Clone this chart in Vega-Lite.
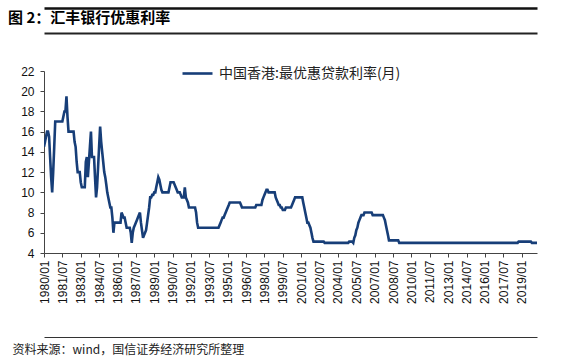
{
  "$schema": "https://vega.github.io/schema/vega-lite/v6.json",
  "autosize": {"type": "none"},
  "width": 493,
  "height": 182,
  "padding": {"left": 44, "top": 71, "right": 29, "bottom": 104},
  "background": "white",
  "title": {
    "text": "图 2：汇丰银行优惠利率",
    "anchor": "start",
    "frame": "group",
    "font": "Noto Sans CJK SC",
    "fontSize": 15,
    "fontWeight": "bold",
    "color": "#000000",
    "dx": -36,
    "offset": -18
  },
  "config": {
    "view": {"stroke": null},
    "axis": {"grid": false, "domainColor": "#444444", "tickColor": "#444444", "labelColor": "#111111", "labelFont": "Liberation Sans", "labelFontSize": 12}
  },
  "data": {
    "values": [
      {"date": "1980/01/01", "rate": 14.5}, {"date": "1980/02/01", "rate": 15}, {"date": "1980/03/01", "rate": 15.5}, {"date": "1980/04/01", "rate": 16}, {"date": "1980/05/01", "rate": 16}, {"date": "1980/06/01", "rate": 15.5}, {"date": "1980/07/01", "rate": 13.5}, {"date": "1980/08/01", "rate": 11.5}, {"date": "1980/09/01", "rate": 10}, {"date": "1980/10/01", "rate": 12}, {"date": "1980/11/01", "rate": 14.5}, {"date": "1980/12/01", "rate": 17},
      {"date": "1981/01/01", "rate": 17}, {"date": "1981/02/01", "rate": 17}, {"date": "1981/03/01", "rate": 17}, {"date": "1981/04/01", "rate": 17}, {"date": "1981/05/01", "rate": 17}, {"date": "1981/06/01", "rate": 17}, {"date": "1981/07/01", "rate": 17}, {"date": "1981/08/01", "rate": 17.5}, {"date": "1981/09/01", "rate": 18}, {"date": "1981/10/01", "rate": 18}, {"date": "1981/11/01", "rate": 19.5}, {"date": "1981/12/01", "rate": 17.5},
      {"date": "1982/01/01", "rate": 16}, {"date": "1982/02/01", "rate": 16}, {"date": "1982/03/01", "rate": 16}, {"date": "1982/04/01", "rate": 16}, {"date": "1982/05/01", "rate": 16}, {"date": "1982/06/01", "rate": 16}, {"date": "1982/07/01", "rate": 15}, {"date": "1982/08/01", "rate": 14.5}, {"date": "1982/09/01", "rate": 13}, {"date": "1982/10/01", "rate": 12}, {"date": "1982/11/01", "rate": 12}, {"date": "1982/12/01", "rate": 12},
      {"date": "1983/01/01", "rate": 11}, {"date": "1983/02/01", "rate": 10.5}, {"date": "1983/03/01", "rate": 10.5}, {"date": "1983/04/01", "rate": 10.5}, {"date": "1983/05/01", "rate": 10.5}, {"date": "1983/06/01", "rate": 13}, {"date": "1983/07/01", "rate": 13.5}, {"date": "1983/08/01", "rate": 11.5}, {"date": "1983/09/01", "rate": 13}, {"date": "1983/10/01", "rate": 14.5}, {"date": "1983/11/01", "rate": 16}, {"date": "1983/12/01", "rate": 13.5},
      {"date": "1984/01/01", "rate": 13.5}, {"date": "1984/02/01", "rate": 13.5}, {"date": "1984/03/01", "rate": 11.5}, {"date": "1984/04/01", "rate": 9.5}, {"date": "1984/05/01", "rate": 10.5}, {"date": "1984/06/01", "rate": 12.5}, {"date": "1984/07/01", "rate": 14.5}, {"date": "1984/08/01", "rate": 16.5}, {"date": "1984/09/01", "rate": 15}, {"date": "1984/10/01", "rate": 14}, {"date": "1984/11/01", "rate": 13}, {"date": "1984/12/01", "rate": 12},
      {"date": "1985/01/01", "rate": 11.5}, {"date": "1985/02/01", "rate": 10.75}, {"date": "1985/03/01", "rate": 10}, {"date": "1985/04/01", "rate": 9.5}, {"date": "1985/05/01", "rate": 9}, {"date": "1985/06/01", "rate": 8.5}, {"date": "1985/07/01", "rate": 8.5}, {"date": "1985/08/01", "rate": 7.5}, {"date": "1985/09/01", "rate": 6}, {"date": "1985/10/01", "rate": 7}, {"date": "1985/11/01", "rate": 7}, {"date": "1985/12/01", "rate": 7},
      {"date": "1986/01/01", "rate": 7}, {"date": "1986/02/01", "rate": 7}, {"date": "1986/03/01", "rate": 7}, {"date": "1986/04/01", "rate": 7}, {"date": "1986/05/01", "rate": 8}, {"date": "1986/06/01", "rate": 7.75}, {"date": "1986/07/01", "rate": 7.5}, {"date": "1986/08/01", "rate": 7.5}, {"date": "1986/09/01", "rate": 7}, {"date": "1986/10/01", "rate": 6.5}, {"date": "1986/11/01", "rate": 6.5}, {"date": "1986/12/01", "rate": 6.5},
      {"date": "1987/01/01", "rate": 6.5}, {"date": "1987/02/01", "rate": 6}, {"date": "1987/03/01", "rate": 5}, {"date": "1987/04/01", "rate": 6}, {"date": "1987/05/01", "rate": 6.5}, {"date": "1987/06/01", "rate": 6.75}, {"date": "1987/07/01", "rate": 7}, {"date": "1987/08/01", "rate": 7.25}, {"date": "1987/09/01", "rate": 7.5}, {"date": "1987/10/01", "rate": 7.75}, {"date": "1987/11/01", "rate": 8}, {"date": "1987/12/01", "rate": 7},
      {"date": "1988/01/01", "rate": 6.25}, {"date": "1988/02/01", "rate": 5.5}, {"date": "1988/03/01", "rate": 5.75}, {"date": "1988/04/01", "rate": 6}, {"date": "1988/05/01", "rate": 6.25}, {"date": "1988/06/01", "rate": 7}, {"date": "1988/07/01", "rate": 7.75}, {"date": "1988/08/01", "rate": 8.5}, {"date": "1988/09/01", "rate": 9.5}, {"date": "1988/10/01", "rate": 9.5}, {"date": "1988/11/01", "rate": 9.75}, {"date": "1988/12/01", "rate": 9.75},
      {"date": "1989/01/01", "rate": 10}, {"date": "1989/02/01", "rate": 10}, {"date": "1989/03/01", "rate": 10.5}, {"date": "1989/04/01", "rate": 11}, {"date": "1989/05/01", "rate": 11.5}, {"date": "1989/06/01", "rate": 11.25}, {"date": "1989/07/01", "rate": 10.75}, {"date": "1989/08/01", "rate": 10.25}, {"date": "1989/09/01", "rate": 10}, {"date": "1989/10/01", "rate": 10}, {"date": "1989/11/01", "rate": 10}, {"date": "1989/12/01", "rate": 10},
      {"date": "1990/01/01", "rate": 10}, {"date": "1990/02/01", "rate": 10}, {"date": "1990/03/01", "rate": 10}, {"date": "1990/04/01", "rate": 10.5}, {"date": "1990/05/01", "rate": 11}, {"date": "1990/06/01", "rate": 11}, {"date": "1990/07/01", "rate": 11}, {"date": "1990/08/01", "rate": 11}, {"date": "1990/09/01", "rate": 10.75}, {"date": "1990/10/01", "rate": 10.5}, {"date": "1990/11/01", "rate": 10.25}, {"date": "1990/12/01", "rate": 10},
      {"date": "1991/01/01", "rate": 10}, {"date": "1991/02/01", "rate": 10}, {"date": "1991/03/01", "rate": 9.75}, {"date": "1991/04/01", "rate": 9.5}, {"date": "1991/05/01", "rate": 9.5}, {"date": "1991/06/01", "rate": 9.5}, {"date": "1991/07/01", "rate": 10.5}, {"date": "1991/08/01", "rate": 9.5}, {"date": "1991/09/01", "rate": 9.25}, {"date": "1991/10/01", "rate": 9}, {"date": "1991/11/01", "rate": 8.5}, {"date": "1991/12/01", "rate": 8.5},
      {"date": "1992/01/01", "rate": 8.5}, {"date": "1992/02/01", "rate": 8.5}, {"date": "1992/03/01", "rate": 8.5}, {"date": "1992/04/01", "rate": 8.5}, {"date": "1992/05/01", "rate": 8.5}, {"date": "1992/06/01", "rate": 8}, {"date": "1992/07/01", "rate": 7}, {"date": "1992/08/01", "rate": 6.5}, {"date": "1992/09/01", "rate": 6.5}, {"date": "1992/10/01", "rate": 6.5}, {"date": "1992/11/01", "rate": 6.5}, {"date": "1992/12/01", "rate": 6.5},
      {"date": "1993/01/01", "rate": 6.5}, {"date": "1993/02/01", "rate": 6.5}, {"date": "1993/03/01", "rate": 6.5}, {"date": "1993/04/01", "rate": 6.5}, {"date": "1993/05/01", "rate": 6.5}, {"date": "1993/06/01", "rate": 6.5}, {"date": "1993/07/01", "rate": 6.5}, {"date": "1993/08/01", "rate": 6.5}, {"date": "1993/09/01", "rate": 6.5}, {"date": "1993/10/01", "rate": 6.5}, {"date": "1993/11/01", "rate": 6.5}, {"date": "1993/12/01", "rate": 6.5},
      {"date": "1994/01/01", "rate": 6.5}, {"date": "1994/02/01", "rate": 6.5}, {"date": "1994/03/01", "rate": 6.5}, {"date": "1994/04/01", "rate": 6.5}, {"date": "1994/05/01", "rate": 6.75}, {"date": "1994/06/01", "rate": 7}, {"date": "1994/07/01", "rate": 7.25}, {"date": "1994/08/01", "rate": 7.5}, {"date": "1994/09/01", "rate": 7.5}, {"date": "1994/10/01", "rate": 7.75}, {"date": "1994/11/01", "rate": 8}, {"date": "1994/12/01", "rate": 8.25},
      {"date": "1995/01/01", "rate": 8.5}, {"date": "1995/02/01", "rate": 8.75}, {"date": "1995/03/01", "rate": 9}, {"date": "1995/04/01", "rate": 9}, {"date": "1995/05/01", "rate": 9}, {"date": "1995/06/01", "rate": 9}, {"date": "1995/07/01", "rate": 9}, {"date": "1995/08/01", "rate": 9}, {"date": "1995/09/01", "rate": 9}, {"date": "1995/10/01", "rate": 9}, {"date": "1995/11/01", "rate": 9}, {"date": "1995/12/01", "rate": 9},
      {"date": "1996/01/01", "rate": 9}, {"date": "1996/02/01", "rate": 8.75}, {"date": "1996/03/01", "rate": 8.5}, {"date": "1996/04/01", "rate": 8.5}, {"date": "1996/05/01", "rate": 8.5}, {"date": "1996/06/01", "rate": 8.5}, {"date": "1996/07/01", "rate": 8.5}, {"date": "1996/08/01", "rate": 8.5}, {"date": "1996/09/01", "rate": 8.5}, {"date": "1996/10/01", "rate": 8.5}, {"date": "1996/11/01", "rate": 8.5}, {"date": "1996/12/01", "rate": 8.5},
      {"date": "1997/01/01", "rate": 8.5}, {"date": "1997/02/01", "rate": 8.5}, {"date": "1997/03/01", "rate": 8.5}, {"date": "1997/04/01", "rate": 8.5}, {"date": "1997/05/01", "rate": 8.75}, {"date": "1997/06/01", "rate": 8.75}, {"date": "1997/07/01", "rate": 8.75}, {"date": "1997/08/01", "rate": 8.75}, {"date": "1997/09/01", "rate": 8.75}, {"date": "1997/10/01", "rate": 8.75}, {"date": "1997/11/01", "rate": 9.25}, {"date": "1997/12/01", "rate": 9.5},
      {"date": "1998/01/01", "rate": 9.75}, {"date": "1998/02/01", "rate": 10}, {"date": "1998/03/01", "rate": 10.25}, {"date": "1998/04/01", "rate": 10.25}, {"date": "1998/05/01", "rate": 10}, {"date": "1998/06/01", "rate": 10}, {"date": "1998/07/01", "rate": 10}, {"date": "1998/08/01", "rate": 10}, {"date": "1998/09/01", "rate": 10}, {"date": "1998/10/01", "rate": 10}, {"date": "1998/11/01", "rate": 10}, {"date": "1998/12/01", "rate": 9.5},
      {"date": "1999/01/01", "rate": 9.25}, {"date": "1999/02/01", "rate": 9}, {"date": "1999/03/01", "rate": 8.75}, {"date": "1999/04/01", "rate": 8.75}, {"date": "1999/05/01", "rate": 8.5}, {"date": "1999/06/01", "rate": 8.5}, {"date": "1999/07/01", "rate": 8.25}, {"date": "1999/08/01", "rate": 8.25}, {"date": "1999/09/01", "rate": 8.25}, {"date": "1999/10/01", "rate": 8.5}, {"date": "1999/11/01", "rate": 8.5}, {"date": "1999/12/01", "rate": 8.5},
      {"date": "2000/01/01", "rate": 8.5}, {"date": "2000/02/01", "rate": 8.5}, {"date": "2000/03/01", "rate": 8.5}, {"date": "2000/04/01", "rate": 8.75}, {"date": "2000/05/01", "rate": 9}, {"date": "2000/06/01", "rate": 9.25}, {"date": "2000/07/01", "rate": 9.5}, {"date": "2000/08/01", "rate": 9.5}, {"date": "2000/09/01", "rate": 9.5}, {"date": "2000/10/01", "rate": 9.5}, {"date": "2000/11/01", "rate": 9.5}, {"date": "2000/12/01", "rate": 9.5},
      {"date": "2001/01/01", "rate": 9.5}, {"date": "2001/02/01", "rate": 9.5}, {"date": "2001/03/01", "rate": 9}, {"date": "2001/04/01", "rate": 8.5}, {"date": "2001/05/01", "rate": 8}, {"date": "2001/06/01", "rate": 7.5}, {"date": "2001/07/01", "rate": 7}, {"date": "2001/08/01", "rate": 7}, {"date": "2001/09/01", "rate": 6.75}, {"date": "2001/10/01", "rate": 6.5}, {"date": "2001/11/01", "rate": 6}, {"date": "2001/12/01", "rate": 5.5},
      {"date": "2002/01/01", "rate": 5.125}, {"date": "2002/02/01", "rate": 5.125}, {"date": "2002/03/01", "rate": 5.125}, {"date": "2002/04/01", "rate": 5.125}, {"date": "2002/05/01", "rate": 5.125}, {"date": "2002/06/01", "rate": 5.125}, {"date": "2002/07/01", "rate": 5.125}, {"date": "2002/08/01", "rate": 5.125}, {"date": "2002/09/01", "rate": 5.125}, {"date": "2002/10/01", "rate": 5.125}, {"date": "2002/11/01", "rate": 5.125}, {"date": "2002/12/01", "rate": 5},
      {"date": "2003/01/01", "rate": 5}, {"date": "2003/02/01", "rate": 5}, {"date": "2003/03/01", "rate": 5}, {"date": "2003/04/01", "rate": 5}, {"date": "2003/05/01", "rate": 5}, {"date": "2003/06/01", "rate": 5}, {"date": "2003/07/01", "rate": 5}, {"date": "2003/08/01", "rate": 5}, {"date": "2003/09/01", "rate": 5}, {"date": "2003/10/01", "rate": 5}, {"date": "2003/11/01", "rate": 5}, {"date": "2003/12/01", "rate": 5},
      {"date": "2004/01/01", "rate": 5}, {"date": "2004/02/01", "rate": 5}, {"date": "2004/03/01", "rate": 5}, {"date": "2004/04/01", "rate": 5}, {"date": "2004/05/01", "rate": 5}, {"date": "2004/06/01", "rate": 5}, {"date": "2004/07/01", "rate": 5}, {"date": "2004/08/01", "rate": 5}, {"date": "2004/09/01", "rate": 5}, {"date": "2004/10/01", "rate": 5}, {"date": "2004/11/01", "rate": 5}, {"date": "2004/12/01", "rate": 5.125},
      {"date": "2005/01/01", "rate": 5.125}, {"date": "2005/02/01", "rate": 5.125}, {"date": "2005/03/01", "rate": 5.125}, {"date": "2005/04/01", "rate": 5}, {"date": "2005/05/01", "rate": 5.5}, {"date": "2005/06/01", "rate": 5.75}, {"date": "2005/07/01", "rate": 6.25}, {"date": "2005/08/01", "rate": 6.5}, {"date": "2005/09/01", "rate": 7}, {"date": "2005/10/01", "rate": 7.25}, {"date": "2005/11/01", "rate": 7.5}, {"date": "2005/12/01", "rate": 7.75},
      {"date": "2006/01/01", "rate": 7.75}, {"date": "2006/02/01", "rate": 7.75}, {"date": "2006/03/01", "rate": 8}, {"date": "2006/04/01", "rate": 8}, {"date": "2006/05/01", "rate": 8}, {"date": "2006/06/01", "rate": 8}, {"date": "2006/07/01", "rate": 8}, {"date": "2006/08/01", "rate": 8}, {"date": "2006/09/01", "rate": 8}, {"date": "2006/10/01", "rate": 8}, {"date": "2006/11/01", "rate": 7.75}, {"date": "2006/12/01", "rate": 7.75},
      {"date": "2007/01/01", "rate": 7.75}, {"date": "2007/02/01", "rate": 7.75}, {"date": "2007/03/01", "rate": 7.75}, {"date": "2007/04/01", "rate": 7.75}, {"date": "2007/05/01", "rate": 7.75}, {"date": "2007/06/01", "rate": 7.75}, {"date": "2007/07/01", "rate": 7.75}, {"date": "2007/08/01", "rate": 7.75}, {"date": "2007/09/01", "rate": 7.75}, {"date": "2007/10/01", "rate": 7.5}, {"date": "2007/11/01", "rate": 7.25}, {"date": "2007/12/01", "rate": 6.75},
      {"date": "2008/01/01", "rate": 6.25}, {"date": "2008/02/01", "rate": 5.75}, {"date": "2008/03/01", "rate": 5.25}, {"date": "2008/04/01", "rate": 5.25}, {"date": "2008/05/01", "rate": 5.25}, {"date": "2008/06/01", "rate": 5.25}, {"date": "2008/07/01", "rate": 5.25}, {"date": "2008/08/01", "rate": 5.25}, {"date": "2008/09/01", "rate": 5.25}, {"date": "2008/10/01", "rate": 5.25}, {"date": "2008/11/01", "rate": 5.25}, {"date": "2008/12/01", "rate": 5.25},
      {"date": "2009/01/01", "rate": 5}, {"date": "2009/02/01", "rate": 5}, {"date": "2009/03/01", "rate": 5}, {"date": "2009/04/01", "rate": 5}, {"date": "2009/05/01", "rate": 5}, {"date": "2009/06/01", "rate": 5}, {"date": "2009/07/01", "rate": 5}, {"date": "2009/08/01", "rate": 5}, {"date": "2009/09/01", "rate": 5}, {"date": "2009/10/01", "rate": 5}, {"date": "2009/11/01", "rate": 5}, {"date": "2009/12/01", "rate": 5},
      {"date": "2010/01/01", "rate": 5}, {"date": "2010/02/01", "rate": 5}, {"date": "2010/03/01", "rate": 5}, {"date": "2010/04/01", "rate": 5}, {"date": "2010/05/01", "rate": 5}, {"date": "2010/06/01", "rate": 5}, {"date": "2010/07/01", "rate": 5}, {"date": "2010/08/01", "rate": 5}, {"date": "2010/09/01", "rate": 5}, {"date": "2010/10/01", "rate": 5}, {"date": "2010/11/01", "rate": 5}, {"date": "2010/12/01", "rate": 5},
      {"date": "2011/01/01", "rate": 5}, {"date": "2011/02/01", "rate": 5}, {"date": "2011/03/01", "rate": 5}, {"date": "2011/04/01", "rate": 5}, {"date": "2011/05/01", "rate": 5}, {"date": "2011/06/01", "rate": 5}, {"date": "2011/07/01", "rate": 5}, {"date": "2011/08/01", "rate": 5}, {"date": "2011/09/01", "rate": 5}, {"date": "2011/10/01", "rate": 5}, {"date": "2011/11/01", "rate": 5}, {"date": "2011/12/01", "rate": 5},
      {"date": "2012/01/01", "rate": 5}, {"date": "2012/02/01", "rate": 5}, {"date": "2012/03/01", "rate": 5}, {"date": "2012/04/01", "rate": 5}, {"date": "2012/05/01", "rate": 5}, {"date": "2012/06/01", "rate": 5}, {"date": "2012/07/01", "rate": 5}, {"date": "2012/08/01", "rate": 5}, {"date": "2012/09/01", "rate": 5}, {"date": "2012/10/01", "rate": 5}, {"date": "2012/11/01", "rate": 5}, {"date": "2012/12/01", "rate": 5},
      {"date": "2013/01/01", "rate": 5}, {"date": "2013/02/01", "rate": 5}, {"date": "2013/03/01", "rate": 5}, {"date": "2013/04/01", "rate": 5}, {"date": "2013/05/01", "rate": 5}, {"date": "2013/06/01", "rate": 5}, {"date": "2013/07/01", "rate": 5}, {"date": "2013/08/01", "rate": 5}, {"date": "2013/09/01", "rate": 5}, {"date": "2013/10/01", "rate": 5}, {"date": "2013/11/01", "rate": 5}, {"date": "2013/12/01", "rate": 5},
      {"date": "2014/01/01", "rate": 5}, {"date": "2014/02/01", "rate": 5}, {"date": "2014/03/01", "rate": 5}, {"date": "2014/04/01", "rate": 5}, {"date": "2014/05/01", "rate": 5}, {"date": "2014/06/01", "rate": 5}, {"date": "2014/07/01", "rate": 5}, {"date": "2014/08/01", "rate": 5}, {"date": "2014/09/01", "rate": 5}, {"date": "2014/10/01", "rate": 5}, {"date": "2014/11/01", "rate": 5}, {"date": "2014/12/01", "rate": 5},
      {"date": "2015/01/01", "rate": 5}, {"date": "2015/02/01", "rate": 5}, {"date": "2015/03/01", "rate": 5}, {"date": "2015/04/01", "rate": 5}, {"date": "2015/05/01", "rate": 5}, {"date": "2015/06/01", "rate": 5}, {"date": "2015/07/01", "rate": 5}, {"date": "2015/08/01", "rate": 5}, {"date": "2015/09/01", "rate": 5}, {"date": "2015/10/01", "rate": 5}, {"date": "2015/11/01", "rate": 5}, {"date": "2015/12/01", "rate": 5},
      {"date": "2016/01/01", "rate": 5}, {"date": "2016/02/01", "rate": 5}, {"date": "2016/03/01", "rate": 5}, {"date": "2016/04/01", "rate": 5}, {"date": "2016/05/01", "rate": 5}, {"date": "2016/06/01", "rate": 5}, {"date": "2016/07/01", "rate": 5}, {"date": "2016/08/01", "rate": 5}, {"date": "2016/09/01", "rate": 5}, {"date": "2016/10/01", "rate": 5}, {"date": "2016/11/01", "rate": 5}, {"date": "2016/12/01", "rate": 5},
      {"date": "2017/01/01", "rate": 5}, {"date": "2017/02/01", "rate": 5}, {"date": "2017/03/01", "rate": 5}, {"date": "2017/04/01", "rate": 5}, {"date": "2017/05/01", "rate": 5}, {"date": "2017/06/01", "rate": 5}, {"date": "2017/07/01", "rate": 5}, {"date": "2017/08/01", "rate": 5}, {"date": "2017/09/01", "rate": 5}, {"date": "2017/10/01", "rate": 5}, {"date": "2017/11/01", "rate": 5}, {"date": "2017/12/01", "rate": 5},
      {"date": "2018/01/01", "rate": 5}, {"date": "2018/02/01", "rate": 5}, {"date": "2018/03/01", "rate": 5}, {"date": "2018/04/01", "rate": 5}, {"date": "2018/05/01", "rate": 5}, {"date": "2018/06/01", "rate": 5}, {"date": "2018/07/01", "rate": 5}, {"date": "2018/08/01", "rate": 5}, {"date": "2018/09/01", "rate": 5}, {"date": "2018/10/01", "rate": 5.125}, {"date": "2018/11/01", "rate": 5.125}, {"date": "2018/12/01", "rate": 5.125},
      {"date": "2019/01/01", "rate": 5.125}, {"date": "2019/02/01", "rate": 5.125}, {"date": "2019/03/01", "rate": 5.125}, {"date": "2019/04/01", "rate": 5.125}, {"date": "2019/05/01", "rate": 5.125}, {"date": "2019/06/01", "rate": 5.125}, {"date": "2019/07/01", "rate": 5.125}, {"date": "2019/08/01", "rate": 5.125}, {"date": "2019/09/01", "rate": 5.125}, {"date": "2019/10/01", "rate": 5.125}, {"date": "2019/11/01", "rate": 5}, {"date": "2019/12/01", "rate": 5},
      {"date": "2020/01/01", "rate": 5}, {"date": "2020/02/01", "rate": 5}, {"date": "2020/03/01", "rate": 5}, {"date": "2020/04/01", "rate": 5}
    ]
  },
  "encoding": {
    "y": {
      "field": "rate",
      "type": "quantitative",
      "scale": {"domain": [4, 22], "nice": false, "zero": false},
      "axis": {"values": [4, 6, 8, 10, 12, 14, 16, 18, 20, 22], "tickSize": 4, "labelPadding": 6, "title": null}
    }
  },
  "layer": [
    {
      "mark": {"type": "line", "opacity": 0},
      "encoding": {
        "x": {"field": "date", "type": "temporal", "axis": {"orient": "top", "offset": 63, "domainColor": "#111111", "domainWidth": 2.5, "ticks": false, "labels": false, "title": null}}
      }
    },
    {
      "mark": {"type": "line", "opacity": 0},
      "encoding": {
        "x": {"field": "date", "type": "temporal", "axis": {"orient": "top", "offset": 38, "domainColor": "#222222", "domainWidth": 2, "ticks": false, "labels": false, "title": null}}
      }
    },
    {
      "mark": {"type": "line", "opacity": 0},
      "encoding": {
        "x": {"field": "date", "type": "temporal", "axis": {"orient": "bottom", "offset": 84, "domainColor": "#333333", "domainWidth": 1, "ticks": false, "labels": false, "title": null}}
      }
    },
    {
      "mark": {"type": "line", "strokeWidth": 2.6, "clip": true},
      "encoding": {
        "x": {
          "field": "date",
          "type": "temporal",
          "scale": {"domain": [{"year": 1980, "month": 1, "date": 1}, {"year": 2020, "month": 4, "date": 1}], "nice": false},
          "axis": {
            "values": [
              {"year": 1980, "month": 1, "date": 1}, {"year": 1981, "month": 7, "date": 1}, {"year": 1983, "month": 1, "date": 1}, {"year": 1984, "month": 7, "date": 1},
              {"year": 1986, "month": 1, "date": 1}, {"year": 1987, "month": 7, "date": 1}, {"year": 1989, "month": 1, "date": 1}, {"year": 1990, "month": 7, "date": 1},
              {"year": 1992, "month": 1, "date": 1}, {"year": 1993, "month": 7, "date": 1}, {"year": 1995, "month": 1, "date": 1}, {"year": 1996, "month": 7, "date": 1},
              {"year": 1998, "month": 1, "date": 1}, {"year": 1999, "month": 7, "date": 1}, {"year": 2001, "month": 1, "date": 1}, {"year": 2002, "month": 7, "date": 1},
              {"year": 2004, "month": 1, "date": 1}, {"year": 2005, "month": 7, "date": 1}, {"year": 2007, "month": 1, "date": 1}, {"year": 2008, "month": 7, "date": 1},
              {"year": 2010, "month": 1, "date": 1}, {"year": 2011, "month": 7, "date": 1}, {"year": 2013, "month": 1, "date": 1}, {"year": 2014, "month": 7, "date": 1},
              {"year": 2016, "month": 1, "date": 1}, {"year": 2017, "month": 7, "date": 1}, {"year": 2019, "month": 1, "date": 1}
            ],
            "format": "%Y/%m",
            "labelAngle": -90,
            "labelAlign": "right",
            "labelBaseline": "middle",
            "labelPadding": 3,
            "tickSize": 4,
            "labelOverlap": false,
            "labelFlush": false,
            "title": "资料来源：wind，国信证券经济研究所整理",
            "titleFont": "Noto Sans CJK SC",
            "titleFontSize": 12,
            "titleFontWeight": "normal",
            "titleColor": "#222222",
            "titleAlign": "left",
            "titleBaseline": "middle",
            "titleAngle": 0,
            "titleX": -32,
            "titleY": 96
          }
        },
        "color": {
          "datum": "中国香港:最优惠贷款利率(月)",
          "type": "nominal",
          "scale": {"range": ["#173e78"]},
          "legend": {
            "orient": "none",
            "legendX": 137,
            "legendY": -14,
            "title": null,
            "symbolType": "stroke",
            "symbolSize": 900,
            "symbolStrokeWidth": 2.6,
            "labelFont": "Noto Sans CJK SC",
            "labelFontSize": 14,
            "labelLimit": 400,
            "labelColor": "#222222",
            "labelOffset": 5
          }
        }
      }
    }
  ],
  "resolve": {"axis": {"x": "independent"}}
}
